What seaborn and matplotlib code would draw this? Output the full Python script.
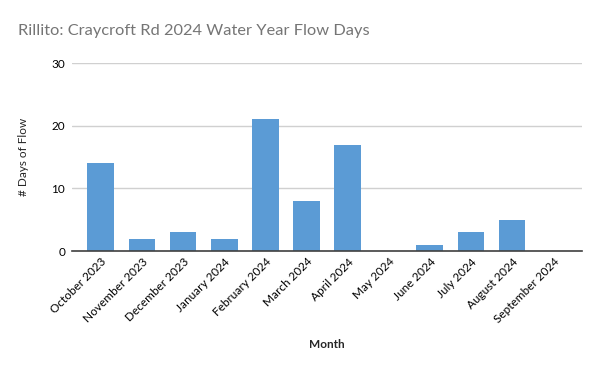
import matplotlib
matplotlib.use("Agg")
import matplotlib.pyplot as plt
import seaborn as sns
import pandas as pd

# values
months = ["October 2023", "November 2023", "December 2023", "January 2024",
          "February 2024", "March 2024", "April 2024", "May 2024",
          "June 2024", "July 2024", "August 2024", "September 2024"]
flow_days = [14, 2, 3, 2, 21, 8, 17, 0, 1, 3, 5, 0]
y_ticks = [0, 10, 20, 30]

sns.set_theme(style="white")
plt.rcParams["font.family"] = ["Lato", "DejaVu Sans"]

df = pd.DataFrame({"Month": months, "Days": flow_days})

fig = plt.figure(figsize=(6, 3.71), dpi=100)
ax = fig.add_axes([0.12, 0.323, 0.85, 0.507])

sns.barplot(data=df, x="Month", y="Days", color="#5B9BD5", width=0.65,
            saturation=1, linewidth=0, ax=ax, zorder=3)

ax.set_ylim(0, 30)
ax.set_yticks(y_ticks)
ax.set_xlim(-0.7, len(months) - 0.3)
ax.yaxis.grid(True, color="#D0D0D0", linewidth=1, zorder=0)
for s in ["top", "right", "left"]:
    ax.spines[s].set_visible(False)
ax.spines["bottom"].set_color("#404040")
ax.spines["bottom"].set_linewidth(1.2)
ax.spines["bottom"].set_zorder(4)
ax.tick_params(axis="both", length=0, labelsize=8.5, colors="#000000")
ax.tick_params(axis="y", pad=5)
plt.setp(ax.get_xticklabels(), rotation=45, ha="right", rotation_mode="anchor")

ax.set_xlabel("Month", fontsize=8.5, fontweight="bold", labelpad=10)
ax.set_ylabel("# Days of Flow", fontsize=8.5, labelpad=16)

fig.text(0.03, 0.905, "Rillito: Craycroft Rd 2024 Water Year Flow Days",
         fontsize=11.8, color="#757575")

fig.savefig("out.png", dpi=100)
